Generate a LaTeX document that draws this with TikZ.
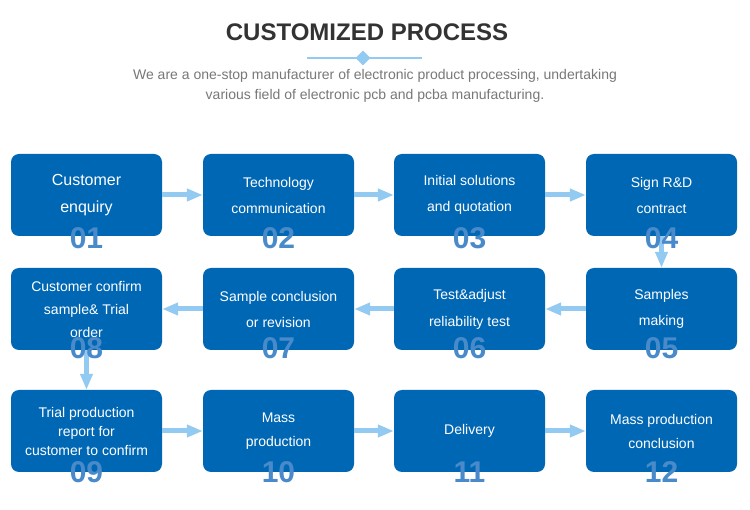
\documentclass[tikz,border=0pt]{standalone}
\usepackage{fontspec}
\setmainfont{Liberation Sans}
\usetikzlibrary{shapes.geometric,arrows.meta}
\definecolor{boxblue}{RGB}{0,103,180}
\definecolor{arrowblue}{RGB}{146,202,242}
\definecolor{numblue}{RGB}{72,138,202}
\definecolor{titlegray}{RGB}{51,51,51}
\definecolor{subgray}{RGB}{120,120,120}
\tikzset{
  stepbox/.style={fill=boxblue, rounded corners=8pt, minimum width=151pt, minimum height=82pt,
    text=white, align=center, inner sep=0pt},
  numlabel/.style={text=numblue, font=\bfseries\fontsize{30}{30}\selectfont, inner sep=0pt},
  flow/.style={draw=arrowblue, line width=5pt, -{Triangle[length=16pt,width=12pt]}},
}
\begin{document}
\begin{tikzpicture}[x=1pt,y=-1pt]
\path[use as bounding box, fill=white] (0,0) rectangle (750,510);
% title
\node[text=titlegray, font=\bfseries\fontsize{24}{26}\selectfont] (title) at (367,32) {CUSTOMIZED PROCESS};
\coordinate (dl) at (307,58);
\coordinate (dr) at (422,58);
\draw[arrowblue, line width=1.3pt] (dl) -- (dr);
\node[diamond, fill=arrowblue, minimum width=15pt, minimum height=15pt, inner sep=0pt] (dia) at (363,58) {};
\node[text=subgray, align=center, font=\fontsize{14}{20}\selectfont] (sub) at (375,86)
  {We are a one-stop manufacturer of electronic product processing, undertaking\\various field of electronic pcb and pcba manufacturing.};
% row 1
\node[stepbox, font=\fontsize{16}{27}\selectfont] (b1) at (86.5,195) {Customer\\enquiry};
\node[stepbox, font=\fontsize{14}{26}\selectfont] (b2) at (278.5,195) {Technology\\communication};
\node[stepbox, font=\fontsize{14}{26}\selectfont] (b3) at (469.5,195) {Initial solutions\\and quotation};
\node[stepbox, font=\fontsize{14}{26}\selectfont] (b4) at (661.5,195) {Sign R\&D\\contract};
% row 2
\node[stepbox, font=\fontsize{14}{26}\selectfont] (b5) at (661.5,309) {Samples\\making};
\node[stepbox, font=\fontsize{14}{27}\selectfont] (b6) at (469.5,309) {Test\&adjust\\reliability test};
\node[stepbox, font=\fontsize{14}{26}\selectfont] (b7) at (278.5,309) {Sample conclusion\\or revision};
\node[stepbox, font=\fontsize{14}{23}\selectfont] (b8) at (86.5,309) {Customer confirm\\sample\& Trial\\order};
% row 3
\node[stepbox, font=\fontsize{14}{19}\selectfont] (b9) at (86.5,431) {Trial production\\report for\\customer to confirm};
\node[stepbox, font=\fontsize{14}{24}\selectfont] (b10) at (278.5,431) {Mass\\production};
\node[stepbox, font=\fontsize{14}{24}\selectfont] (b11) at (469.5,431) {Delivery};
\node[stepbox, font=\fontsize{14}{24}\selectfont] (b12) at (661.5,431) {Mass production\\conclusion};
% arrows
\draw[flow] (b1) -- (b2);
\draw[flow] (b2) -- (b3);
\draw[flow] (b3) -- (b4);
\draw[flow] (b4) -- (b5);
\draw[flow] (b5) -- (b6);
\draw[flow] (b6) -- (b7);
\draw[flow] (b7) -- (b8);
\draw[flow] (b8) -- (b9);
\draw[flow] (b9) -- (b10);
\draw[flow] (b10) -- (b11);
\draw[flow] (b11) -- (b12);
% numbers
\node[numlabel] (n1) at ([yshift=-2pt]b1.south) {01};
\node[numlabel] (n2) at ([yshift=-2pt]b2.south) {02};
\node[numlabel] (n3) at ([yshift=-2pt]b3.south) {03};
\node[numlabel] (n4) at ([yshift=-2pt]b4.south) {04};
\node[numlabel] (n5) at ([yshift=2pt]b5.south) {05};
\node[numlabel] (n6) at ([yshift=2pt]b6.south) {06};
\node[numlabel] (n7) at ([yshift=2pt]b7.south) {07};
\node[numlabel] (n8) at ([yshift=2pt]b8.south) {08};
\node[numlabel] (n9) at (b9.south) {09};
\node[numlabel] (n10) at (b10.south) {10};
\node[numlabel] (n11) at (b11.south) {11};
\node[numlabel] (n12) at (b12.south) {12};
\end{tikzpicture}
\end{document}
